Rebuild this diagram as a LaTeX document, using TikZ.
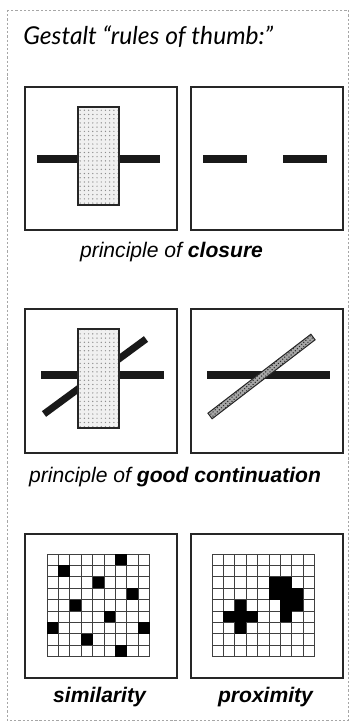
\documentclass[tikz,border=0pt]{standalone}
\usepackage{fontspec}
\setmainfont{Liberation Sans}
\newfontfamily\titlefont{Lato}
\usetikzlibrary{patterns}

\begin{document}
\begin{tikzpicture}[
    x=0.025cm, y=-0.025cm,
    frame/.style={draw=black!35, line width=0.6pt, dash pattern=on 1.6pt off 1.4pt},
    panel/.style={draw=black!85, line width=1.1pt},
    bar/.style={draw=black!90, line width=5pt},
    stipple/.style={draw=black!85, line width=0.9pt, preaction={fill=black!6}, pattern=dots, pattern color=black!45},
    hatched/.style={draw=black!85, line width=0.7pt, preaction={fill=black!35}, pattern=crosshatch dots, pattern color=black!85},
    gridline/.style={draw=black!75, line width=0.5pt},
    cell/.style={fill=black},
    caption/.style={font=\fontsize{15}{18}\selectfont\itshape, inner sep=0pt, anchor=base}
]
    \useasboundingbox (0,0) rectangle (350,722);
    \draw[frame] (7,10) rectangle (348.5,720);

    \node[anchor=base west, inner sep=0pt, font=\titlefont\itshape\fontsize{17.5}{20}\selectfont] (title) at (23,45) {Gestalt “rules of thumb:”};

    \draw[panel] (25,87) rectangle (177,230);
    \draw[panel] (191,87) rectangle (343,230);
    \draw[bar] (37,159) -- (160,159);
    \draw[stipple] (78,107) rectangle (119,205);
    \draw[bar] (203,159) -- (247,159);
    \draw[bar] (283,159) -- (327,159);
    \node[caption] (closure) at (171.5,257) {principle of \textbf{closure}};

    \draw[panel] (25,309) rectangle (177,453);
    \draw[panel] (191,309) rectangle (343,453);
    \draw[bar] (41,375) -- (164,375);
    \draw[bar] (44,414) -- (146,339);
    \draw[stipple] (78,329) rectangle (119,428);
    \draw[bar] (207,375) -- (330,375);
    \draw[hatched] (207.9,413.2) -- (212.1,418.8) -- (315.1,339.8) -- (310.9,334.2) -- cycle;
    \node[caption] (continuation) at (175,482) {principle of \textbf{good continuation}};

    \draw[panel] (25,534) rectangle (177,678);
    \draw[panel] (191,534) rectangle (343,678);
    \begin{scope}[shift={(47,554)}]
        \foreach \k in {0,...,9}
            \draw[gridline] (\k*11.4,0) -- (\k*11.4,102.6) (0,\k*11.4) -- (102.6,\k*11.4);
        \foreach \c/\r in {6/0,1/1,4/2,7/3,2/4,5/5,0/6,8/6,3/7,6/8}
            \fill[cell] (\c*11.4,\r*11.4) rectangle ++(11.4,11.4);
    \end{scope}
    \begin{scope}[shift={(212,554)}]
        \foreach \k in {0,...,9}
            \draw[gridline] (\k*11.4,0) -- (\k*11.4,102.6) (0,\k*11.4) -- (102.6,\k*11.4);
        \foreach \c/\r in {2/4,1/5,2/5,3/5,2/6,5/2,6/2,5/3,6/3,7/3,6/4,7/4,6/5}
            \fill[cell] (\c*11.4,\r*11.4) rectangle ++(11.4,11.4);
    \end{scope}
    \node[caption] (similarity) at (99.5,702) {\textbf{similarity}};
    \node[caption] (proximity) at (265.5,702) {\textbf{proximity}};
\end{tikzpicture}
\end{document}
